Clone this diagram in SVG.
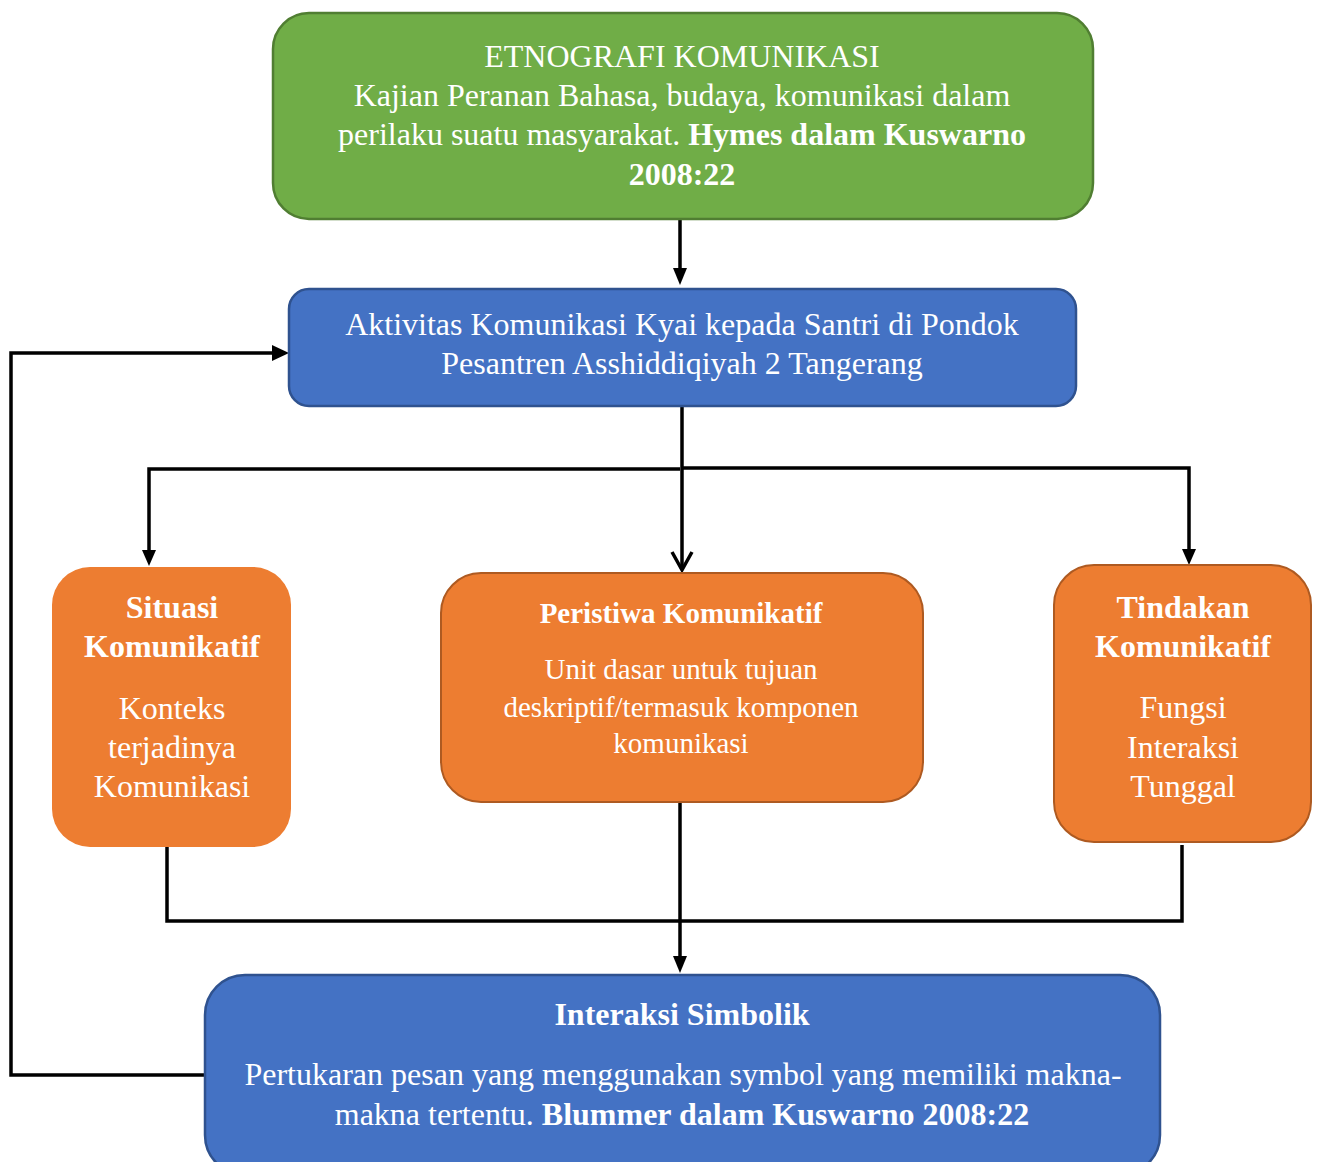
<svg xmlns="http://www.w3.org/2000/svg" width="1318" height="1162" viewBox="0 0 1318 1162">
<style>
  text { font-family: "Liberation Serif", "Times New Roman", serif; fill: #ffffff; text-anchor: middle; font-size: 32px; }
  .b { font-weight: bold; }
  .s { font-size: 29px; }
  .green { fill: #70AD47; stroke: #507E32; stroke-width: 2.5; }
  .blue { fill: #4472C4; stroke: #2F528F; stroke-width: 2.5; }
  .orange { fill: #ED7D31; stroke: #AE5A21; stroke-width: 2; }
  .orange-n { fill: #ED7D31; }
  .ln { fill: none; stroke: #000000; stroke-width: 3.5; }
  .hd { fill: #000000; }
</style>
<rect width="1318" height="1162" fill="#ffffff"/>

<g id="connectors">
  <line class="ln" x1="680" y1="219" x2="680" y2="270"/>
  <polygon class="hd" points="673,268 687,268 680,285"/>
  <line class="ln" x1="682" y1="406" x2="682" y2="569"/>
  <polyline class="ln" points="672,552 682,570 692,552"/>
  <polyline class="ln" points="680,469 149,469 149,552"/>
  <polygon class="hd" points="142,550 156,550 149,566"/>
  <polyline class="ln" points="682,468 1189,468 1189,551"/>
  <polygon class="hd" points="1182,549 1196,549 1189,565"/>
  <polyline class="ln" points="167,846 167,921 1182,921 1182,845"/>
  <line class="ln" x1="680" y1="802" x2="680" y2="958"/>
  <polygon class="hd" points="673,956 687,956 680,973"/>
  <polyline class="ln" points="205,1075 11,1075 11,353 274,353"/>
  <polygon class="hd" points="272,345 272,361 289,353"/>
</g>

<g id="node-etnografi">
  <rect class="green" x="273" y="13" width="820" height="206" rx="36"/>
  <text x="682" y="67">ETNOGRAFI KOMUNIKASI</text>
  <text x="682" y="106">Kajian Peranan Bahasa, budaya, komunikasi dalam</text>
  <text x="682" y="145">perilaku suatu masyarakat. <tspan class="b">Hymes dalam Kuswarno</tspan></text>
  <text x="682" y="185" class="b">2008:22</text>
</g>

<g id="node-aktivitas">
  <rect class="blue" x="289" y="289" width="787" height="117" rx="20"/>
  <text x="682" y="335">Aktivitas Komunikasi Kyai kepada Santri di Pondok</text>
  <text x="682" y="374">Pesantren Asshiddiqiyah 2 Tangerang</text>
</g>

<g id="node-situasi">
  <rect class="orange-n" x="52" y="567" width="239" height="280" rx="38"/>
  <text x="172" y="618" class="b">Situasi</text>
  <text x="172" y="657" class="b">Komunikatif</text>
  <text x="172" y="719">Konteks</text>
  <text x="172" y="758">terjadinya</text>
  <text x="172" y="797">Komunikasi</text>
</g>

<g id="node-peristiwa">
  <rect class="orange" x="441" y="573" width="482" height="229" rx="40"/>
  <text x="681" y="623" class="b s">Peristiwa Komunikatif</text>
  <text x="681" y="679" class="s">Unit dasar untuk tujuan</text>
  <text x="681" y="717" class="s">deskriptif/termasuk komponen</text>
  <text x="681" y="753" class="s">komunikasi</text>
</g>

<g id="node-tindakan">
  <rect class="orange" x="1054" y="565" width="257" height="277" rx="40"/>
  <text x="1183" y="618" class="b">Tindakan</text>
  <text x="1183" y="657" class="b">Komunikatif</text>
  <text x="1183" y="718">Fungsi</text>
  <text x="1183" y="758">Interaksi</text>
  <text x="1183" y="797">Tunggal</text>
</g>

<g id="node-interaksi">
  <rect class="blue" x="205" y="975" width="955" height="200" rx="40"/>
  <text x="682" y="1025" class="b">Interaksi Simbolik</text>
  <text x="683" y="1085">Pertukaran pesan yang menggunakan symbol yang memiliki makna-</text>
  <text x="682" y="1125">makna tertentu. <tspan class="b">Blummer dalam Kuswarno 2008:22</tspan></text>
</g>
</svg>
